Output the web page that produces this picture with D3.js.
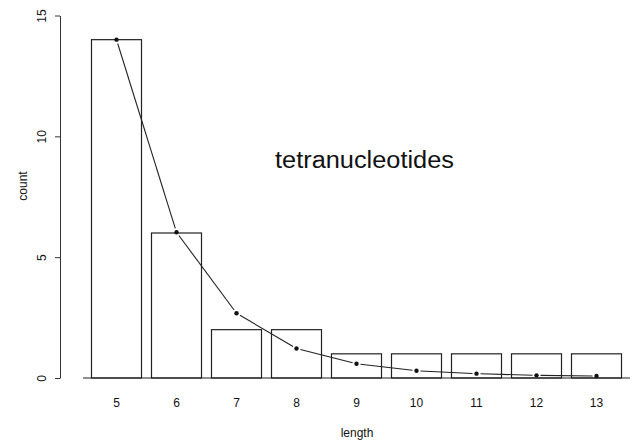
<!DOCTYPE html>
<html lang="en">
<head>
<meta charset="UTF-8">
<title>tetranucleotides</title>
<script src="https://cdn.jsdelivr.net/npm/d3@7"></script>
<style>
  body { margin: 0; background: #fff; }
  text { font-family: "Liberation Sans", Arial, sans-serif; fill: #111; }
</style>
</head>
<body>
<svg width="636" height="444"></svg>
<script>
var lengths = [5, 6, 7, 8, 9, 10, 11, 12, 13];
var counts = [14, 6, 2, 2, 1, 1, 1, 1, 1];
var fitted = [14, 6.03, 2.68, 1.22, 0.59, 0.3, 0.18, 0.11, 0.08];
var yTicks = [0, 5, 10, 15];

var svg = d3.select('svg');

// scales
var x = d3.scaleBand()
    .domain(lengths)
    .range([86.5, 626.5])
    .paddingInner(1 / 6)
    .paddingOuter(1 / 12);

var y = d3.scaleLinear()
    .domain([0, 15])
    .range([378, 15.5]);

// bars
svg.append('g').selectAll('rect')
    .data(counts)
    .enter().append('rect')
    .attr('x', function (d, i) { return x(lengths[i]); })
    .attr('y', function (d) { return y(d); })
    .attr('width', x.bandwidth())
    .attr('height', function (d) { return y(0) - y(d); })
    .attr('fill', 'none')
    .attr('stroke', '#222')
    .attr('stroke-width', 1.2);

// baseline
svg.append('line')
    .attr('x1', 83).attr('x2', 630)
    .attr('y1', y(0)).attr('y2', y(0))
    .attr('stroke', '#222')
    .attr('stroke-width', 1.2);

// y axis (R style, rotated labels)
var axisY = d3.axisLeft(y).tickValues(yTicks).tickSize(5).tickSizeOuter(0);
var gy = svg.append('g')
    .attr('transform', 'translate(60,0)')
    .call(axisY);
gy.select('.domain').attr('stroke', '#333');
gy.selectAll('.tick line').attr('stroke', '#333');
gy.selectAll('.tick text')
    .attr('x', 0).attr('y', 0).attr('dy', 0)
    .attr('text-anchor', 'middle')
    .attr('transform', 'translate(-14,0) rotate(-90)')
    .style('font-size', '12px')
    .style('font-family', '"Liberation Sans", Arial, sans-serif')
    .attr('fill', '#111');

// x labels
var axisX = d3.axisBottom(x).tickSize(0);
var gx = svg.append('g')
    .attr('transform', 'translate(0,' + y(0) + ')')
    .call(axisX);
gx.select('.domain').remove();
gx.selectAll('.tick text')
    .attr('y', 29)
    .attr('dy', 0)
    .style('font-size', '12px')
    .style('font-family', '"Liberation Sans", Arial, sans-serif')
    .attr('fill', '#111');

// fitted curve, R type="b" (gaps round the points)
var pts = fitted.map(function (d, i) {
    return [x(lengths[i]) + x.bandwidth() / 2, y(d)];
});
var gap = 4;
var segs = [];
for (var i = 0; i < pts.length - 1; i++) {
    var a = pts[i], b = pts[i + 1];
    var dx = b[0] - a[0], dy = b[1] - a[1];
    var len = Math.sqrt(dx * dx + dy * dy);
    if (len <= gap * 2) continue;
    var ux = dx / len, uy = dy / len;
    segs.push([a[0] + ux * gap, a[1] + uy * gap, b[0] - ux * gap, b[1] - uy * gap]);
}
svg.append('g').selectAll('line')
    .data(segs)
    .enter().append('line')
    .attr('x1', function (d) { return d[0]; })
    .attr('y1', function (d) { return d[1]; })
    .attr('x2', function (d) { return d[2]; })
    .attr('y2', function (d) { return d[3]; })
    .attr('stroke', '#222')
    .attr('stroke-width', 1.1);

svg.append('g').selectAll('circle')
    .data(pts)
    .enter().append('circle')
    .attr('cx', function (d) { return d[0]; })
    .attr('cy', function (d) { return d[1]; })
    .attr('r', 2.2)
    .attr('fill', '#111');

// labels
svg.append('text')
    .attr('x', 275).attr('y', 168)
    .attr('textLength', 179)
    .attr('lengthAdjust', 'spacingAndGlyphs')
    .style('font-size', '23px')
    .text('tetranucleotides');

svg.append('text')
    .attr('x', 357).attr('y', 437)
    .attr('text-anchor', 'middle')
    .style('font-size', '12px')
    .text('length');

svg.append('text')
    .attr('transform', 'translate(27,186) rotate(-90)')
    .attr('text-anchor', 'middle')
    .style('font-size', '12px')
    .text('count');
</script>
</body>
</html>
